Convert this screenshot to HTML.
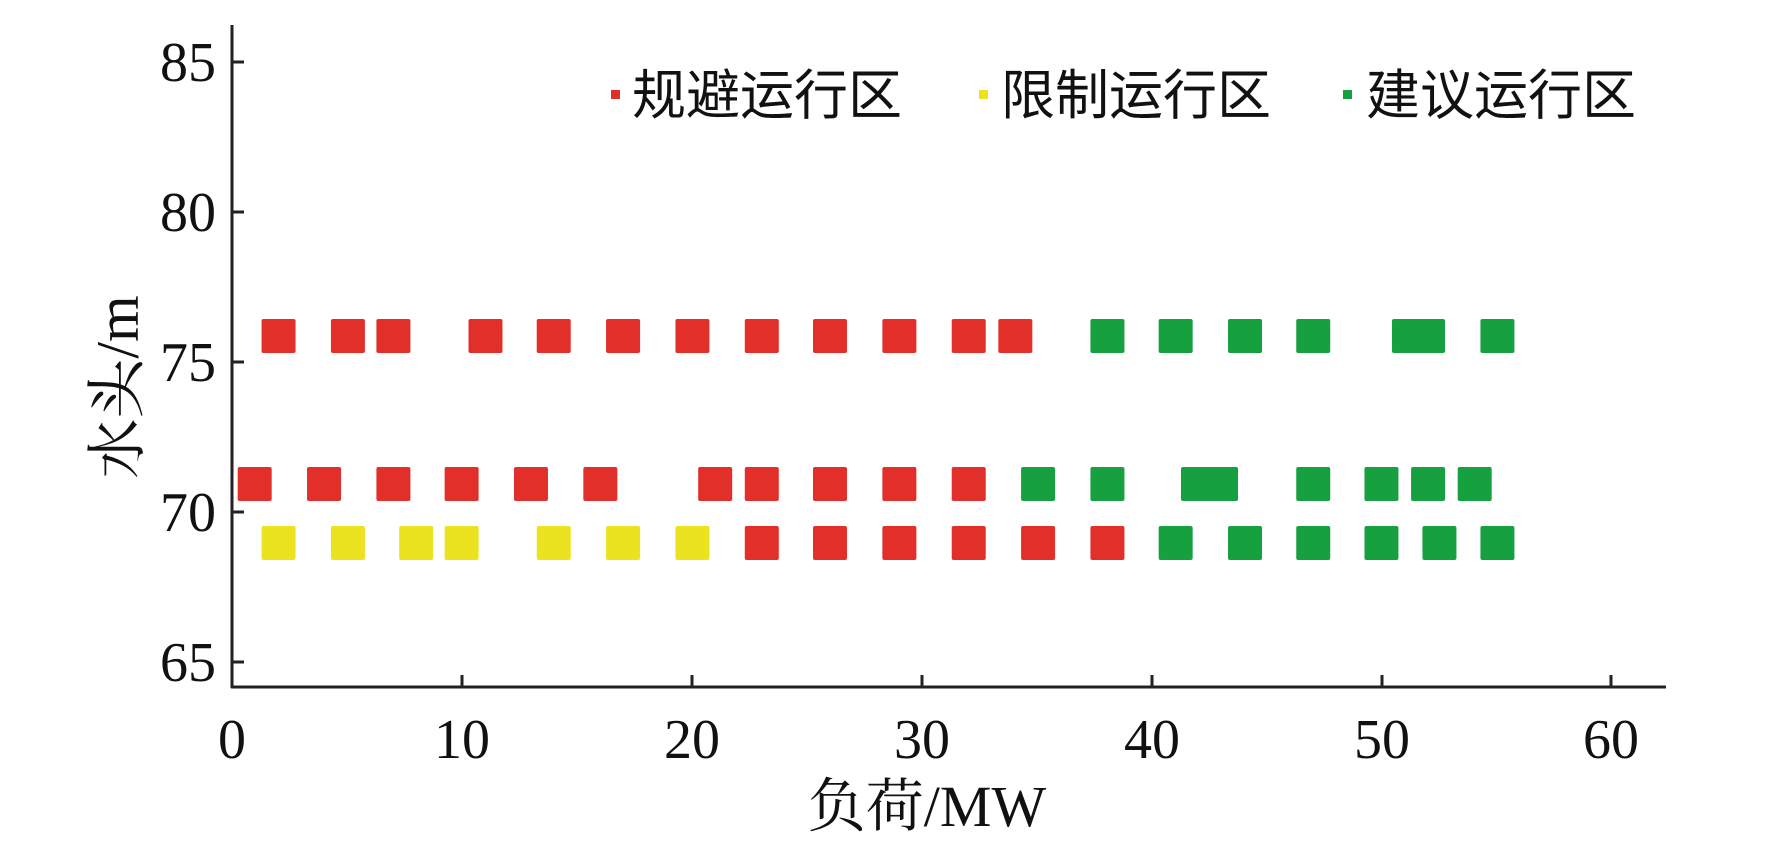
<!DOCTYPE html>
<html><head><meta charset="utf-8"><style>html,body{margin:0;padding:0;background:#fff}</style></head>
<body>
<svg width="1772" height="843" viewBox="0 0 1772 843" xmlns="http://www.w3.org/2000/svg">
<g stroke="#222" stroke-width="3" fill="none">
<line x1="232" y1="25" x2="232" y2="688"/>
<line x1="231" y1="687" x2="1666" y2="687"/>
<line x1="232" y1="62" x2="244" y2="62"/>
<line x1="232" y1="212" x2="244" y2="212"/>
<line x1="232" y1="362" x2="244" y2="362"/>
<line x1="232" y1="512" x2="244" y2="512"/>
<line x1="232" y1="662" x2="244" y2="662"/>
<line x1="462" y1="687" x2="462" y2="675"/>
<line x1="692" y1="687" x2="692" y2="675"/>
<line x1="922" y1="687" x2="922" y2="675"/>
<line x1="1152" y1="687" x2="1152" y2="675"/>
<line x1="1382" y1="687" x2="1382" y2="675"/>
<line x1="1611" y1="687" x2="1611" y2="675"/>
</g>
<g font-family="Liberation Serif, serif" font-size="56" fill="#111">
<g text-anchor="end">
<text x="216" y="81">85</text><text x="216" y="231">80</text><text x="216" y="381">75</text><text x="216" y="531">70</text><text x="216" y="681">65</text>
</g>
<g text-anchor="middle">
<text x="232" y="758">0</text><text x="462" y="758">10</text><text x="692" y="758">20</text><text x="922" y="758">30</text><text x="1152" y="758">40</text><text x="1382" y="758">50</text><text x="1611" y="758">60</text>
<text x="927" y="826" font-size="58" font-family="Liberation Serif, 'Noto Serif CJK SC', serif">负荷/MW</text>
<text transform="translate(138,387) rotate(-90)" font-size="60" font-family="Liberation Serif, 'Noto Serif CJK SC', serif">水头/m</text>
</g>
</g>
<g font-family="Liberation Sans, 'Noto Sans CJK SC', sans-serif" font-size="54" fill="#111">
<rect x="611" y="90" width="9" height="9" fill="#e0302a"/><text x="632" y="114">规避运行区</text>
<rect x="979" y="90" width="9" height="9" fill="#ece21f"/><text x="1001" y="114">限制运行区</text>
<rect x="1343" y="90" width="9" height="9" fill="#18a040"/><text x="1366" y="114">建议运行区</text>
</g>
<g id="pts"></g>
<script>
var g=document.getElementById('pts');
function X(p){return p*1.137;}
function sq(cx,cy,c,w){var r=document.createElementNS('http://www.w3.org/2000/svg','rect');w=w||34;r.setAttribute('x',cx-w/2);r.setAttribute('y',cy-17);r.setAttribute('width',w);r.setAttribute('height',34);r.setAttribute('rx',2);r.setAttribute('fill',c);g.appendChild(r);}
var R='#e32f2a',Y='#ece320',G='#17a040';
[245,306,346,427,487,548,609,670,730,791,852,893].forEach(function(p){sq(X(p),336,R)});
[974,1034,1095,1155,1317].forEach(function(p){sq(X(p),336,G)});
sq(1418.5,336,G,53);
[224,285,346,406,467,528,629,670,730,791,852].forEach(function(p){sq(X(p),484,R)});
[913,974,1155,1215,1256,1297].forEach(function(p){sq(X(p),484,G)});
sq(1209.5,484,G,57);
[245,306,366,406,487,548,609].forEach(function(p){sq(X(p),543,Y)});
[670,730,791,852,913,974].forEach(function(p){sq(X(p),543,R)});
[1034,1095,1155,1215,1266,1317].forEach(function(p){sq(X(p),543,G)});
</script>
</svg>
</body></html>
